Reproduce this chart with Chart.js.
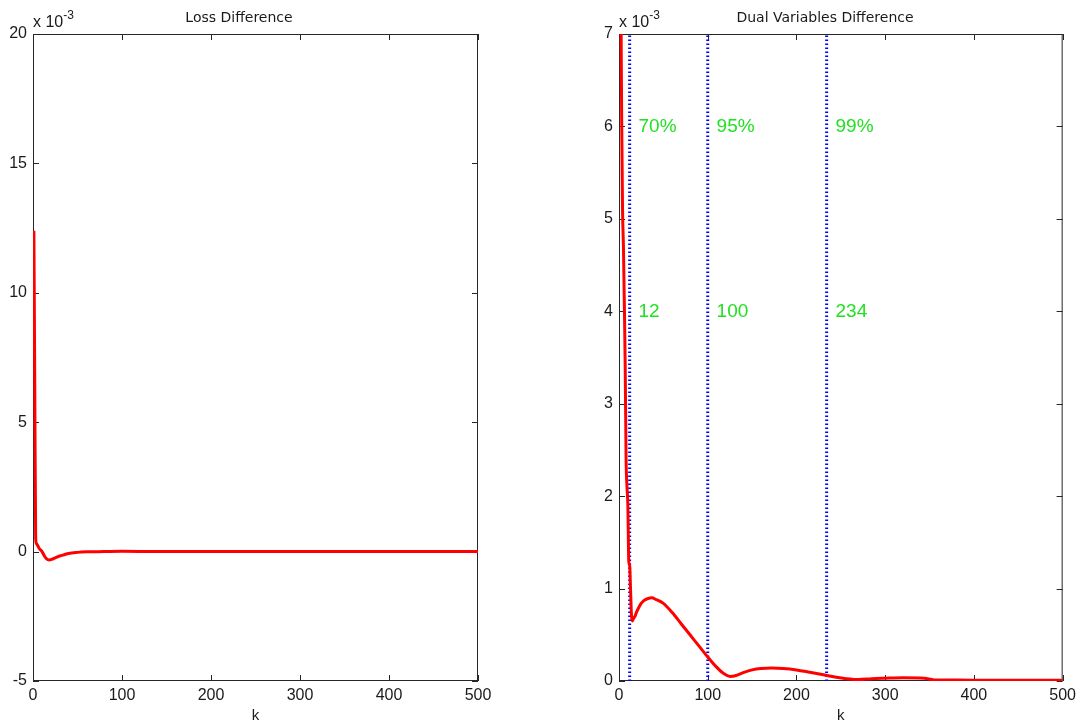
<!DOCTYPE html>
<html>
<head>
<meta charset="utf-8">
<script src="https://cdn.jsdelivr.net/npm/chart.js@4/dist/chart.umd.min.js"></script>
<style>
  html, body { margin: 0; padding: 0; background: #fff; }
  #wrap { position: relative; width: 1081px; height: 725px; overflow: hidden; }
  #lossBox { position: absolute; left: 0; top: 0; width: 540px; height: 725px; }
  #dualBox { position: absolute; left: 586px; top: 0; width: 495px; height: 725px; }
</style>
</head>
<body>
<div id="wrap">
  <div id="lossBox"><canvas id="lossChart" width="540" height="725"></canvas></div>
  <div id="dualBox"><canvas id="dualChart" width="495" height="725"></canvas></div>
</div>
<script>
// DADOS (valores em unidades de 10^-3)
const LOSS_K = [1, 2, 3, 4, 5, 7, 9, 11, 13, 15, 18, 21, 25, 30, 35, 40, 50, 60, 80, 100, 140, 200, 300, 400, 500];
const LOSS_VAL = [12.4, 6.4, 0.5, 0.3, 0.25, 0.12, 0.05, -0.05, -0.18, -0.27, -0.32, -0.3, -0.24, -0.17, -0.12, -0.07, -0.03, -0.01, 0, 0.01, 0, 0, 0, 0, 0];

const DUAL_K = [1, 2, 3, 4, 5, 6, 7, 8, 9, 10, 11, 12, 13, 14, 15, 16, 18, 20, 22, 25,
  28, 32, 37, 42, 50, 60, 70, 80, 90, 100, 110, 118, 125, 132, 140, 150, 160, 172, 185, 200,
  215, 232, 245, 256, 270, 285, 300, 320, 344, 355, 380, 420, 460, 500];
const DUAL_VAL = [9.5, 7.6, 6.1, 5.1, 4.7, 4.1, 3.4, 2.4, 2.1, 1.9, 1.3, 1.25, 1.0, 0.72, 0.65, 0.67, 0.7, 0.75, 0.79, 0.84,
  0.87, 0.89, 0.9, 0.88, 0.84, 0.74, 0.62, 0.5, 0.38, 0.26, 0.15, 0.08, 0.05, 0.06, 0.09, 0.12, 0.135, 0.14, 0.135, 0.12,
  0.095, 0.065, 0.04, 0.025, 0.015, 0.025, 0.03, 0.035, 0.03, 0.012, 0.01, 0.008, 0.008, 0.008];

// LINHAS DE REFERENCIA
const MARK_K = [12, 100, 234];
const MARK_PCT = ["70%", "95%", "99%"];
const PCT_Y = 6;
const KVAL_Y = 4;

const K_MIN = 0, K_MAX = 500, K_STEP = 100;
const LOSS_MIN = -5, LOSS_MAX = 20, LOSS_STEP = 5;
const DUAL_MIN = 0, DUAL_MAX = 7, DUAL_STEP = 1;

const TICK_LEN = 6;
const FONT = '"Liberation Sans", Arial, sans-serif';

const toPoints = (ks, vs) => ks.map((k, i) => ({ x: k, y: vs[i] }));

// caixa + ticks para dentro (estilo matlab)
const boxTicks = {
  id: "boxTicks",
  beforeDatasetsDraw(chart) {
    const { ctx, chartArea: a, scales: { x, y } } = chart;
    ctx.save();
    ctx.strokeStyle = "#262626";
    ctx.lineWidth = 1;
    ctx.beginPath();
    x.ticks.forEach(t => {
      const px = Math.round(x.getPixelForValue(t.value)) + 0.5;
      ctx.moveTo(px, a.bottom); ctx.lineTo(px, a.bottom - TICK_LEN);
      ctx.moveTo(px, a.top); ctx.lineTo(px, a.top + TICK_LEN);
    });
    y.ticks.forEach(t => {
      const py = Math.round(y.getPixelForValue(t.value)) + 0.5;
      ctx.moveTo(a.left, py); ctx.lineTo(a.left + TICK_LEN, py);
      ctx.moveTo(a.right, py); ctx.lineTo(a.right - TICK_LEN, py);
    });
    ctx.stroke();
    ctx.strokeRect(a.left + 0.5, a.top + 0.5, a.right - a.left - 1, a.bottom - a.top - 1);
    ctx.restore();
  }
};

// "x 10^-3"
const expLabel = {
  id: "expLabel",
  afterDraw(chart) {
    const { ctx, chartArea: a } = chart;
    ctx.save();
    ctx.fillStyle = "#1a1a1a";
    ctx.textAlign = "left";
    ctx.textBaseline = "alphabetic";
    ctx.font = "16px " + FONT;
    ctx.fillText("x 10", a.left, 27);
    const w = ctx.measureText("x 10").width;
    ctx.font = "12px " + FONT;
    ctx.fillText("-3", a.left + w, 19);
    ctx.restore();
  }
};

// textos verdes
const markText = {
  id: "markText",
  afterDatasetsDraw(chart) {
    const { ctx, scales: { x, y } } = chart;
    ctx.save();
    ctx.fillStyle = "#22e022";
    ctx.font = "19px " + FONT;
    ctx.textAlign = "left";
    ctx.textBaseline = "middle";
    MARK_K.forEach((k, i) => {
      const px = x.getPixelForValue(k + 10);
      ctx.fillText(MARK_PCT[i], px, y.getPixelForValue(PCT_Y));
      ctx.fillText(String(k), px, y.getPixelForValue(KVAL_Y));
    });
    ctx.restore();
  }
};

function makeOptions(title, yMin, yMax, yStep, padRight) {
  return {
    responsive: false,
    animation: false,
    layout: { padding: { left: 0, right: padRight, top: 0, bottom: 0 } },
    plugins: {
      legend: { display: false },
      tooltip: { enabled: false },
      title: {
        display: true,
        text: title,
        color: "#1a1a1a",
        font: { family: "DejaVu Sans", size: 14, weight: "normal" },
        padding: { top: 10, bottom: 7.2 }
      }
    },
    scales: {
      x: {
        type: "linear",
        min: K_MIN, max: K_MAX,
        afterFit(scale) { scale.height = 44; },
        grid: { display: false, drawTicks: false },
        border: { display: false },
        ticks: { stepSize: K_STEP, color: "#1a1a1a", font: { family: FONT, size: 16 }, padding: 5, maxRotation: 0 },
        title: { display: true, text: "k", color: "#1a1a1a", font: { family: FONT, size: 15 }, padding: { top: 0, bottom: 0 } }
      },
      y: {
        type: "linear",
        min: yMin, max: yMax,
        afterFit(scale) { scale.width = 33; },
        grid: { display: false, drawTicks: false },
        border: { display: false },
        ticks: { stepSize: yStep, color: "#1a1a1a", font: { family: FONT, size: 16 }, padding: 6 }
      }
    }
  };
}

// GRAFICO LOSS
new Chart(document.getElementById("lossChart").getContext("2d"), {
  type: "line",
  data: {
    datasets: [{
      data: toPoints(LOSS_K, LOSS_VAL),
      borderColor: "#ff0000",
      borderWidth: 3,
      pointRadius: 0,
      cubicInterpolationMode: "monotone"
    }]
  },
  options: makeOptions("Loss Difference", LOSS_MIN, LOSS_MAX, LOSS_STEP, 62),
  plugins: [boxTicks, expLabel]
});

// GRAFICO DUAL
const markSets = MARK_K.map(k => ({
  data: [{ x: k, y: DUAL_MIN }, { x: k, y: DUAL_MAX }],
  borderColor: "#0000ff",
  borderWidth: 3,
  borderDash: [1.6, 2.4],
  pointRadius: 0
}));

new Chart(document.getElementById("dualChart").getContext("2d"), {
  type: "line",
  data: {
    datasets: [{
      data: toPoints(DUAL_K, DUAL_VAL),
      borderColor: "#ff0000",
      borderWidth: 3,
      pointRadius: 0,
      cubicInterpolationMode: "monotone"
    }].concat(markSets)
  },
  options: makeOptions("Dual Variables Difference", DUAL_MIN, DUAL_MAX, DUAL_STEP, 17),
  plugins: [boxTicks, expLabel, markText]
});
</script>
</body>
</html>
